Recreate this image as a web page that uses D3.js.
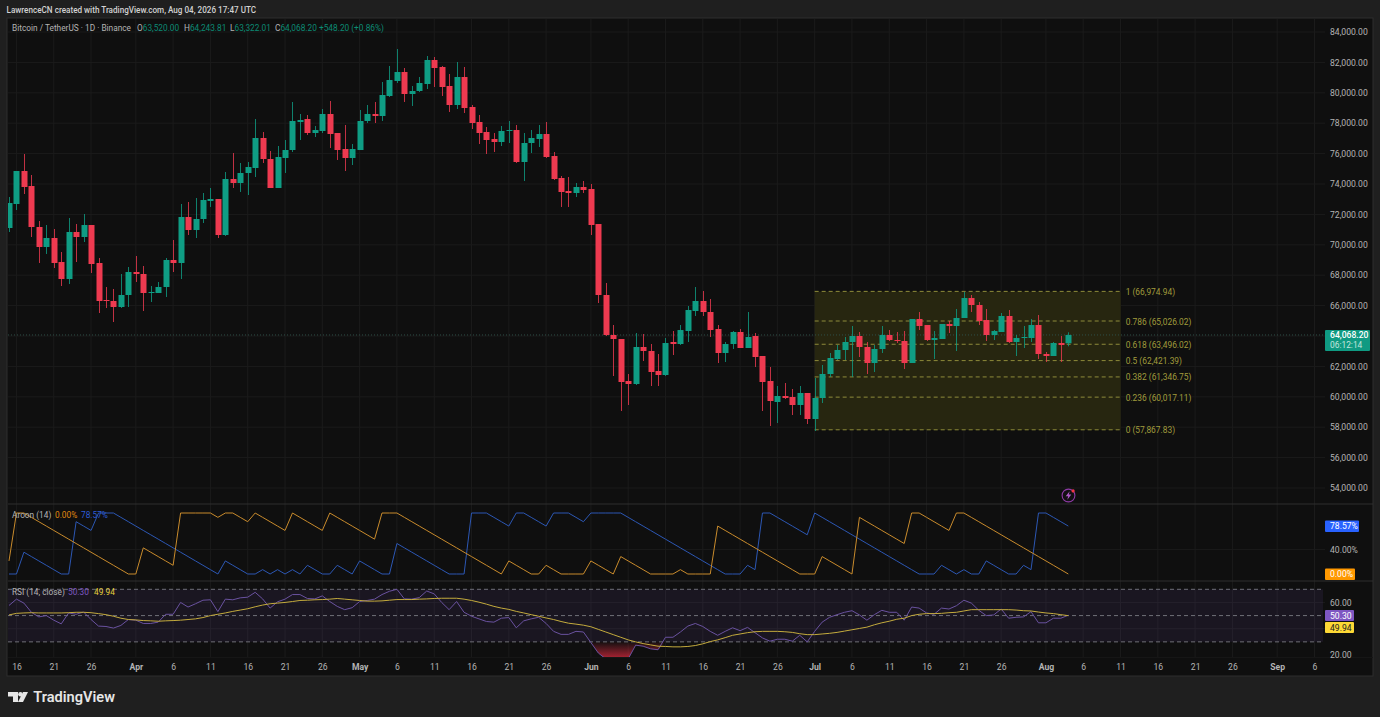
<!DOCTYPE html>
<html>
<head>
<meta charset="utf-8">
<title>BTCUSDT</title>
<script src="https://cdn.jsdelivr.net/npm/d3@7"></script>
<style>
  html, body { margin: 0; padding: 0; background: #1f1f1f; overflow: hidden; }
  svg { display: block; }
  text { font-family: Roboto, "Open Sans", sans-serif; }
</style>
</head>
<body>
<svg id="chart" width="1380" height="717"></svg>
<script>
// daily candles, Mar 15 -> Aug 4
const startDay = "2026-03-15";

const opens = [
71105,72684,74855,73868,71171,69855,70447,68868,67750,70842,
70513,71302,68803,66368,66303,65908,66697,68210,68079,66829,
66829,67224,69000,68803,71829,70973,71697,72882,73013,70645,
74329,74066,74724,75053,77026,75645,73737,75711,76237,78079,
78276,77355,77487,78605,77355,76303,75711,76237,78145,78605,
78474,79789,80776,81368,79921,80118,80579,82158,81697,80447,
79197,81039,79066,78079,77421,76960,76763,77487,77552,75447,
76697,76960,77289,75842,74395,73539,73408,73803,73671,71368,
66697,64066,63802,61039,60842,63276,63013,61697,61434,63605,
63473,64328,65645,66303,65579,64460,62881,63473,64263,63210,
64000,62684,61039,59658,60053,59987,59460,60250,58539,59921,
61500,62487,63079,63605,64000,63276,62223,63145,64066,63736,
63671,62223,65118,64723,63736,63802,64789,64657,65184,66499,
66039,65052,64066,64263,65316,63605,63868,63868,64723,62816,
62684,63539,63520];

const highs = [
73144,74855,75974,74592,71565,71302,71039,69526,71763,71368,
72026,71302,69132,67224,67092,68079,68539,69263,68605,67289,
67553,69132,70315,72684,72816,73079,73408,73737,73013,74789,
76039,75382,75447,78276,77421,76171,76500,76894,79395,78605,
78539,77816,78934,79460,77355,77882,76631,78868,79197,79395,
80710,81763,82881,81632,80447,81039,82421,82355,81763,81237,
82026,81697,79197,78539,77750,77355,77816,78145,77882,77355,
77552,77882,78079,76105,74526,74460,74066,74197,73999,71368,
67487,64723,63802,61500,64197,64132,63473,62816,63868,64328,
64723,65973,67224,66960,66434,64723,63605,64328,64460,65579,
64197,62684,61960,60710,60908,60513,60710,60250,61237,62092,
62882,63408,63934,64657,64263,63605,63408,64657,64394,64263,
64328,65118,65579,64723,64328,64789,64987,65776,66894,66697,
66237,65776,64394,65513,65710,64066,64657,65118,65381,62947,
63605,64000,64243.81];

const lows = [
70842,72289,73342,70513,68803,69395,68474,67289,67421,68868,
70184,68145,65513,65842,64921,65842,65908,67553,65645,66237,
66829,66566,68210,67750,70645,70447,71434,72487,70447,70579,
73737,73474,73276,74460,75382,73737,73737,74724,76105,76894,
77224,77092,77355,76368,75579,74855,75250,76237,78013,78013,
78145,79724,80645,79395,79132,80053,80250,80381,79790,78737,
78934,78671,77618,76631,75974,76105,76500,76697,75382,74197,
76039,76434,75711,74263,72487,72487,73145,73408,70645,66171,
64000,61368,59066,59460,60776,62355,60710,60710,61368,62750,
63408,63605,65316,65316,63934,62223,62289,63145,63210,63210,
61960,59066,58079,58276,59855,58802,58802,58210,57750,59592,
61302,62421,62421,61302,62618,61500,61632,62882,63671,63539,
61829,62223,64394,63671,62487,63802,64197,63013,65184,65579,
64723,63671,63736,64263,63539,62684,63210,63605,62487,62289,
62684,62289,63322.01];

const closes = [
72750,74855,73803,71171,69855,70447,68803,67750,70842,70513,
71302,68737,66303,66303,65908,66697,68210,68079,66829,66895,
67224,69000,68803,71829,70973,71697,72947,73013,70645,74329,
74066,74724,75118,77026,75645,73737,75776,76237,78145,78210,
77355,77552,78605,77289,76237,75711,76303,78145,78605,78474,
79855,80842,81368,79921,80118,80645,82158,81632,80381,79197,
81039,78999,78013,77355,76894,76763,77487,77552,75447,76697,
77026,77289,75776,74329,73474,73408,73803,73605,71302,66697,
64066,63802,60974,60842,63276,63013,61632,61434,63539,63473,
64394,65710,66303,65579,64394,62881,63473,64263,63210,63934,
62618,60974,59723,60053,59921,59460,60250,58539,59921,61500,
62553,63079,63605,64000,63276,62223,63145,64066,63736,63671,
62223,65118,64657,63736,63868,64789,64657,65184,66499,66039,
64987,64066,64328,65316,63605,63868,63934,64723,62816,62684,
63539,63408,64068.2];

const aroonUp = [
21.43,100,100,92.86,85.71,78.57,71.43,64.29,57.14,50,
42.86,35.71,28.57,21.43,14.29,7.14,0,0,42.86,35.71,
28.57,21.43,14.29,100,100,100,100,100,92.86,100,
100,92.86,85.71,100,92.86,85.71,78.57,71.43,100,92.86,
85.71,78.57,71.43,100,92.86,85.71,78.57,71.43,64.29,57.14,
100,100,100,92.86,85.71,78.57,71.43,64.29,57.14,50,
42.86,35.71,28.57,21.43,14.29,7.14,0,21.43,14.29,7.14,
0,0,14.29,7.14,0,0,0,0,21.43,14.29,
7.14,0,28.57,21.43,14.29,7.14,0,0,0,0,
7.14,0,0,0,0,78.57,71.43,64.29,57.14,50,
42.86,35.71,28.57,21.43,14.29,7.14,0,0,0,28.57,
21.43,14.29,7.14,0,92.86,85.71,78.57,71.43,64.29,57.14,
50,100,100,92.86,85.71,78.57,71.43,100,100,92.86,
85.71,78.57,71.43,64.29,57.14,50,42.86,35.71,28.57,21.43,
14.29,7.14,0];

const aroonDown = [
0,0,35.71,28.57,21.43,14.29,7.14,0,0,85.71,
78.57,71.43,100,100,100,92.86,85.71,78.57,71.43,64.29,
57.14,50,42.86,35.71,28.57,21.43,14.29,7.14,0,21.43,
14.29,7.14,0,0,7.14,0,7.14,0,7.14,0,
14.29,7.14,0,0,14.29,7.14,0,21.43,14.29,7.14,
0,0,50,42.86,35.71,28.57,21.43,14.29,7.14,0,
0,0,100,100,100,92.86,85.71,78.57,100,100,
92.86,85.71,78.57,100,100,100,92.86,85.71,100,100,
100,100,100,92.86,85.71,78.57,71.43,64.29,57.14,50,
42.86,35.71,28.57,21.43,14.29,7.14,0,0,0,14.29,
7.14,100,100,92.86,85.71,78.57,71.43,64.29,100,92.86,
85.71,78.57,71.43,64.29,57.14,50,42.86,35.71,28.57,21.43,
14.29,7.14,0,0,0,14.29,7.14,0,7.14,0,
0,21.43,14.29,7.14,0,0,14.29,7.14,100,100,
92.86,85.71,78.57];

const rsi = [
57.7,62.5,59.5,52.5,49,50,46.5,43.7,52,51,
52.7,47,42,41.7,40.5,42.5,47,46.5,44,44,
45,51,51,60,56.5,59,61.7,62,53,62.5,
62,63.5,64,67.7,62.7,55.7,60.5,62.5,66,66,
63,62.7,65,60.7,57,54.5,56,60.7,61.5,62.5,
66,68.5,70,62.7,62.5,63.7,68.7,66.5,60,54.5,
60.7,52.5,49.5,47.5,45.5,45,48,48.5,40.7,46,
47.5,48.7,44,38,35.7,35.7,38,37.5,29.5,21.5,
17,15,15,17,27.5,26.7,24.7,24,33.5,33.5,
37.5,42,44,41.7,38,35,38,40.7,38.5,41,
37,33,30.5,32,32,30.5,35,30,38,45,
48.7,50.7,52.5,53.7,50.5,46.5,50.7,54,52.5,52.5,
46.5,56.5,55.7,52,51,55.7,55,57.5,61.7,59.5,
54,50,50.5,55,48,48.7,49,53,44.5,44.5,
48,48,50.3];

const rsiMa = [
50.5,51.7,52,52.2,52,52,52,52,52.2,52.5,
52.5,52.2,51.5,50.7,49.5,48,47,46.7,46.2,46,
45.7,46,46.2,46.5,47,47.5,48.5,50,51,52,
53.2,54.2,55.2,56.7,58,59,59.5,60,60.7,61.5,
61.7,62,62.2,62.5,63,62.5,62,61.5,61,61,
61.2,61.7,62.2,62.2,62.2,62.5,62.7,63,63.2,63.2,
63.2,62.5,61.5,60.2,58.7,57,55.7,54.7,53.2,52,
50.7,49.5,48.2,47,45.5,44.2,43.5,42.7,41.5,39.5,
37.5,35.5,33.5,31.5,30,28.7,27.7,26.7,26.5,26.2,
26.2,26.5,27.2,28.5,30.2,31.5,33.2,35,36,37,
37.7,38,38,38,37.7,37.2,36.2,35.5,35.5,36,
36.5,37.2,38.2,39.2,40.2,41.2,43,44.5,45.7,47.2,
48,50,51,51.5,51.5,51.7,52.2,52.5,53.5,54.5,
54.5,54.5,54.5,54.5,54.5,54.2,53.7,53.5,52.7,52,
51.5,50.7,49.94];

const priceTicks = [84000,82000,80000,78000,76000,74000,72000,70000,68000,66000,64000,62000,60000,58000,56000,54000];
const fibLevels = [1,0.786,0.618,0.5,0.382,0.236,0];
const fibPrices = [66974.94,65026.02,63496.02,62421.39,61346.75,60017.11,57867.83];

const tickDays = [
"2026-03-16","2026-03-21","2026-03-26","2026-04-01","2026-04-06","2026-04-11","2026-04-16","2026-04-21","2026-04-26",
"2026-05-01","2026-05-06","2026-05-11","2026-05-16","2026-05-21","2026-05-26","2026-06-01","2026-06-06","2026-06-11",
"2026-06-16","2026-06-21","2026-06-26","2026-07-01","2026-07-06","2026-07-11","2026-07-16","2026-07-21","2026-07-26",
"2026-08-01","2026-08-06","2026-08-11","2026-08-16","2026-08-21","2026-08-26","2026-09-01","2026-09-06"];

// colours
const upCol = "#0f9d84", downCol = "#ee3a50";
const pageBg = "#1f1f1f", paneBg = "#0f0f0f", gridCol = "#1b1b1b", sepCol = "#2e2e2e", axisText = "#b4b4b4";
const fibCol = "#a19c3c", upLine = "#c98b2c", downLine = "#2c57b4", rsiCol = "#6a52a0", maCol = "#c4ab3d";

const parse = d3.utcParse("%Y-%m-%d");
const days = closes.map((c, i) => d3.utcDay.offset(parse(startDay), i));
const gridDays = tickDays.map(parse);

const x = d3.scaleUtc().domain([parse(startDay), parse("2026-09-06")]).range([9, 1314.5]);
const y = d3.scaleLinear().domain([54000, 84000]).range([488, 32]);
const yAroon = d3.scaleLinear().domain([0, 100]).range([574, 513]);
const yRsi = d3.scaleLinear().domain([20, 70]).range([655, 589.3]);

const svg = d3.select("#chart");
svg.append("rect").attr("width", 1380).attr("height", 717).attr("fill", pageBg);
svg.append("rect").attr("x", 7).attr("y", 18).attr("width", 1366).attr("height", 658)
  .attr("fill", paneBg).attr("stroke", sepCol);

let defs = svg.append("defs");
defs.append("clipPath").attr("id", "rsiClip").append("rect")
  .attr("x", 7).attr("y", 582).attr("width", 1320).attr("height", 75);
defs.append("clipPath").attr("id", "paneClip").append("rect")
  .attr("x", 8).attr("y", 19).attr("width", 1317).attr("height", 485);
let grad = defs.append("linearGradient").attr("id", "oversold")
  .attr("gradientUnits", "userSpaceOnUse").attr("x1", 0).attr("x2", 0)
  .attr("y1", yRsi(30)).attr("y2", 657);
grad.append("stop").attr("offset", 0).attr("stop-color", "#d0283c").attr("stop-opacity", 0.03);
grad.append("stop").attr("offset", 1).attr("stop-color", "#d0283c").attr("stop-opacity", 0.75);

// grid
svg.append("g").selectAll("line").data(gridDays).enter().append("line")
  .attr("x1", d => x(d)).attr("x2", d => x(d)).attr("y1", 19).attr("y2", 657)
  .attr("stroke", gridCol);
svg.append("g").selectAll("line").data(priceTicks).enter().append("line")
  .attr("x1", 8).attr("x2", 1325).attr("y1", d => y(d)).attr("y2", d => y(d))
  .attr("stroke", gridCol);
svg.append("g").selectAll("line").data([40]).enter().append("line")
  .attr("x1", 8).attr("x2", 1325).attr("y1", d => yAroon(d)).attr("y2", d => yAroon(d))
  .attr("stroke", gridCol);
svg.append("g").selectAll("line").data([60, 40]).enter().append("line")
  .attr("x1", 8).attr("x2", 1325).attr("y1", d => yRsi(d)).attr("y2", d => yRsi(d))
  .attr("stroke", gridCol);

// pane separators
svg.append("g").selectAll("line").data([504, 581, 657.5]).enter().append("line")
  .attr("x1", 8).attr("x2", 1373).attr("y1", d => d).attr("y2", d => d)
  .attr("stroke", (d, i) => i == 2 ? "#161616" : sepCol);

// fib box
let fibX0 = x(parse("2026-07-01")), fibX1 = fibX0 + 306;
svg.append("rect").attr("x", fibX0).attr("width", fibX1 - fibX0)
  .attr("y", y(fibPrices[0]) + 0.8).attr("height", y(fibPrices[6]) - y(fibPrices[0]))
  .attr("fill", "#272610");
fibPrices.forEach((p, i) => {
  let py = y(p) + 0.6;
  svg.append("line").attr("x1", fibX0).attr("x2", fibX1).attr("y1", py).attr("y2", py)
    .attr("stroke", "#8e8b3a").attr("stroke-dasharray", "4 3");
  svg.append("text").attr("x", fibX1 + 5).attr("y", py + 0.6).attr("dy", "0.35em")
    .attr("fill", fibCol).attr("font-size", 8.4)
    .text(fibLevels[i] + " (" + d3.format(",.2f")(p) + ")");
});

// last price line
svg.append("line").attr("x1", 8).attr("x2", 1325).attr("y1", y(closes[142])).attr("y2", y(closes[142]))
  .attr("stroke", "#2e4f48").attr("stroke-dasharray", "1 2");

// candles
let candles = svg.append("g").attr("clip-path", "url(#paneClip)");
candles.selectAll("line.wick").data(days).enter().append("line")
  .attr("class", "wick")
  .attr("x1", d => Math.round(x(d)) + 0.5).attr("x2", d => Math.round(x(d)) + 0.5)
  .attr("y1", (d, i) => y(highs[i])).attr("y2", (d, i) => y(lows[i]))
  .attr("stroke", (d, i) => closes[i] >= opens[i] ? upCol : downCol)
  .attr("stroke-opacity", 0.8);
candles.selectAll("rect.body").data(days).enter().append("rect")
  .attr("class", "body")
  .attr("x", d => Math.round(x(d)) - 2.5).attr("width", 6)
  .attr("y", (d, i) => y(Math.max(opens[i], closes[i])))
  .attr("height", (d, i) => Math.max(1, Math.abs(y(opens[i]) - y(closes[i]))))
  .attr("fill", (d, i) => closes[i] >= opens[i] ? upCol : downCol);

// aroon
let lineAroon = d3.line().x((d, i) => x(days[i])).y(d => yAroon(d));
svg.append("path").datum(aroonDown).attr("d", lineAroon).attr("fill", "none").attr("stroke", downLine);
svg.append("path").datum(aroonUp).attr("d", lineAroon).attr("fill", "none").attr("stroke", upLine);

// rsi
let rsiPane = svg.append("g").attr("clip-path", "url(#rsiClip)");
rsiPane.append("rect").attr("x", 8).attr("width", 1315).attr("y", yRsi(70)).attr("height", yRsi(30) - yRsi(70))
  .attr("fill", "#7e57c2").attr("opacity", 0.1);
rsiPane.append("path").datum(rsi)
  .attr("d", d3.area().x((d, i) => x(days[i])).y0(yRsi(30)).y1(d => yRsi(Math.min(d, 30))))
  .attr("fill", "url(#oversold)");
[70, 50, 30].forEach(v => {
  rsiPane.append("line").attr("x1", 8).attr("x2", 1323).attr("y1", yRsi(v)).attr("y2", yRsi(v))
    .attr("stroke", "#6f7078").attr("stroke-dasharray", "4 3");
});
let lineRsi = d3.line().x((d, i) => x(days[i])).y(d => yRsi(d));
rsiPane.append("path").datum(rsi).attr("d", lineRsi).attr("fill", "none").attr("stroke", rsiCol);
rsiPane.append("path").datum(rsiMa).attr("d", lineRsi).attr("fill", "none").attr("stroke", maCol);

// axes
function styleAxis(g) {
  g.select(".domain").remove();
  g.selectAll(".tick line").remove();
  g.selectAll("text").attr("fill", axisText).attr("font-size", 8.6)
    .attr("font-family", "Roboto, sans-serif");
}
svg.append("g").attr("transform", "translate(1325,0)")
  .call(d3.axisRight(y).tickValues(priceTicks).tickSize(0).tickPadding(5).tickFormat(d3.format(",.2f")))
  .call(styleAxis);
svg.append("g").attr("transform", "translate(1325,0)")
  .call(d3.axisRight(yAroon).tickValues([40]).tickSize(0).tickPadding(5).tickFormat(d => d3.format(".2f")(d) + "%"))
  .call(styleAxis);
svg.append("g").attr("transform", "translate(1325,0)")
  .call(d3.axisRight(yRsi).tickValues([60, 20]).tickSize(0).tickPadding(5).tickFormat(d3.format(".2f")))
  .call(styleAxis);

let monthFmt = d3.utcFormat("%b"), dayFmt = d3.utcFormat("%-d");
let xAxis = svg.append("g").attr("transform", "translate(0,661.5)")
  .call(d3.axisBottom(x).tickValues(gridDays).tickSize(0).tickPadding(2)
    .tickFormat(d => d.getUTCDate() == 1 ? monthFmt(d) : dayFmt(d)))
  .call(styleAxis);
xAxis.selectAll("text").attr("font-weight", d => d.getUTCDate() == 1 ? 700 : 400);

// price and indicator badges
function badge(by, bh, bw, col, txt, txtCol) {
  svg.append("rect").attr("x", 1325).attr("y", by).attr("width", bw).attr("height", bh).attr("rx", 1).attr("fill", col);
  svg.append("text").attr("x", 1330).attr("y", by + bh / 2).attr("dy", "0.35em")
    .attr("font-size", 8.6).attr("fill", txtCol).text(txt);
}
svg.append("rect").attr("x", 1325).attr("y", 330).attr("width", 45).attr("height", 21).attr("rx", 1).attr("fill", "#0f9a82");
svg.append("text").attr("x", 1330).attr("y", 338).attr("font-size", 8.6).attr("font-weight", 500).attr("fill", "#fff").text("64,068.20");
svg.append("text").attr("x", 1330).attr("y", 348).attr("font-size", 8.4).attr("fill", "#c4e6de").text("06:12:14");
badge(520.5, 11.5, 34, "#2962ff", "78.57%", "#fff");
badge(568.5, 11.5, 30, "#ff9800", "0.00%", "#fff");
badge(610, 11, 29, "#7e57c2", "50.30", "#fff");
badge(622, 11, 29, "#fdd835", "49.94", "#222");

// header
svg.append("text").attr("x", 6.5).attr("y", 13).attr("font-size", 8.15).attr("font-weight", 500)
  .attr("fill", "#d2d2d2").text("LawrenceCN created with TradingView.com, Aug 04, 2026 17:47 UTC");

let legend = svg.append("g").attr("font-size", 8.3);
legend.append("text").attr("x", 12).attr("y", 31).attr("fill", "#b4b4b4").text("Bitcoin / TetherUS · 1D · Binance");
[[137, "O", opens[142]], [184, "H", highs[142]], [230, "L", lows[142]], [275, "C", closes[142]]].forEach(d => {
  let t = legend.append("text").attr("x", d[0]).attr("y", 31);
  t.append("tspan").attr("fill", "#b4b4b4").text(d[1]);
  t.append("tspan").attr("fill", "#0c8a74").text(d3.format(",.2f")(d[2]));
});
legend.append("text").attr("x", 319).attr("y", 31).attr("fill", "#0c8a74").text("+548.20 (+0.86%)");

let aroonLegend = svg.append("g").attr("font-size", 8.3);
aroonLegend.append("text").attr("x", 12).attr("y", 518).attr("fill", "#b4b4b4").text("Aroon (14)");
aroonLegend.append("text").attr("x", 55).attr("y", 518).attr("fill", "#e08a10").text("0.00%");
aroonLegend.append("text").attr("x", 81).attr("y", 518).attr("fill", "#2d5cd8").text("78.57%");

let rsiLegend = svg.append("g").attr("font-size", 8.3);
rsiLegend.append("text").attr("x", 12).attr("y", 594.5).attr("fill", "#b4b4b4").text("RSI (14, close)");
rsiLegend.append("text").attr("x", 68).attr("y", 594.5).attr("fill", "#7e57c2").text("50.30");
rsiLegend.append("text").attr("x", 94).attr("y", 594.5).attr("fill", "#e6cf3c").text("49.94");

// lightning icon
let bolt = svg.append("g").attr("transform", "translate(1068.5,495.5)");
bolt.append("circle").attr("r", 6.4).attr("fill", "#131013").attr("stroke", "#8e3aa6").attr("stroke-width", 1.1);
bolt.append("path").attr("d", "M1.2,-4.2 L-2.8,0.8 L-0.3,0.8 L-1.2,4.2 L2.8,-1 L0.3,-1 Z").attr("fill", "#b05ac8");
bolt.append("circle").attr("cx", 4.6).attr("cy", -4.6).attr("r", 1.6).attr("fill", "#f23645");

// logo
let logo = svg.append("g").attr("transform", "translate(8,692)").attr("fill", "#e6e6e6");
logo.append("path").attr("d", "M0,0 H10 V10 H5 V4.5 H0 Z");
logo.append("circle").attr("cx", 12.4).attr("cy", 2.2).attr("r", 2.2);
logo.append("path").attr("d", "M15,0 H20 L15,10 H10 Z");
svg.append("text").attr("x", 33.3).attr("y", 702).attr("font-size", 14.6).attr("font-weight", 600)
  .attr("fill", "#e6e6e6").text("TradingView");
</script>
</body>
</html>
